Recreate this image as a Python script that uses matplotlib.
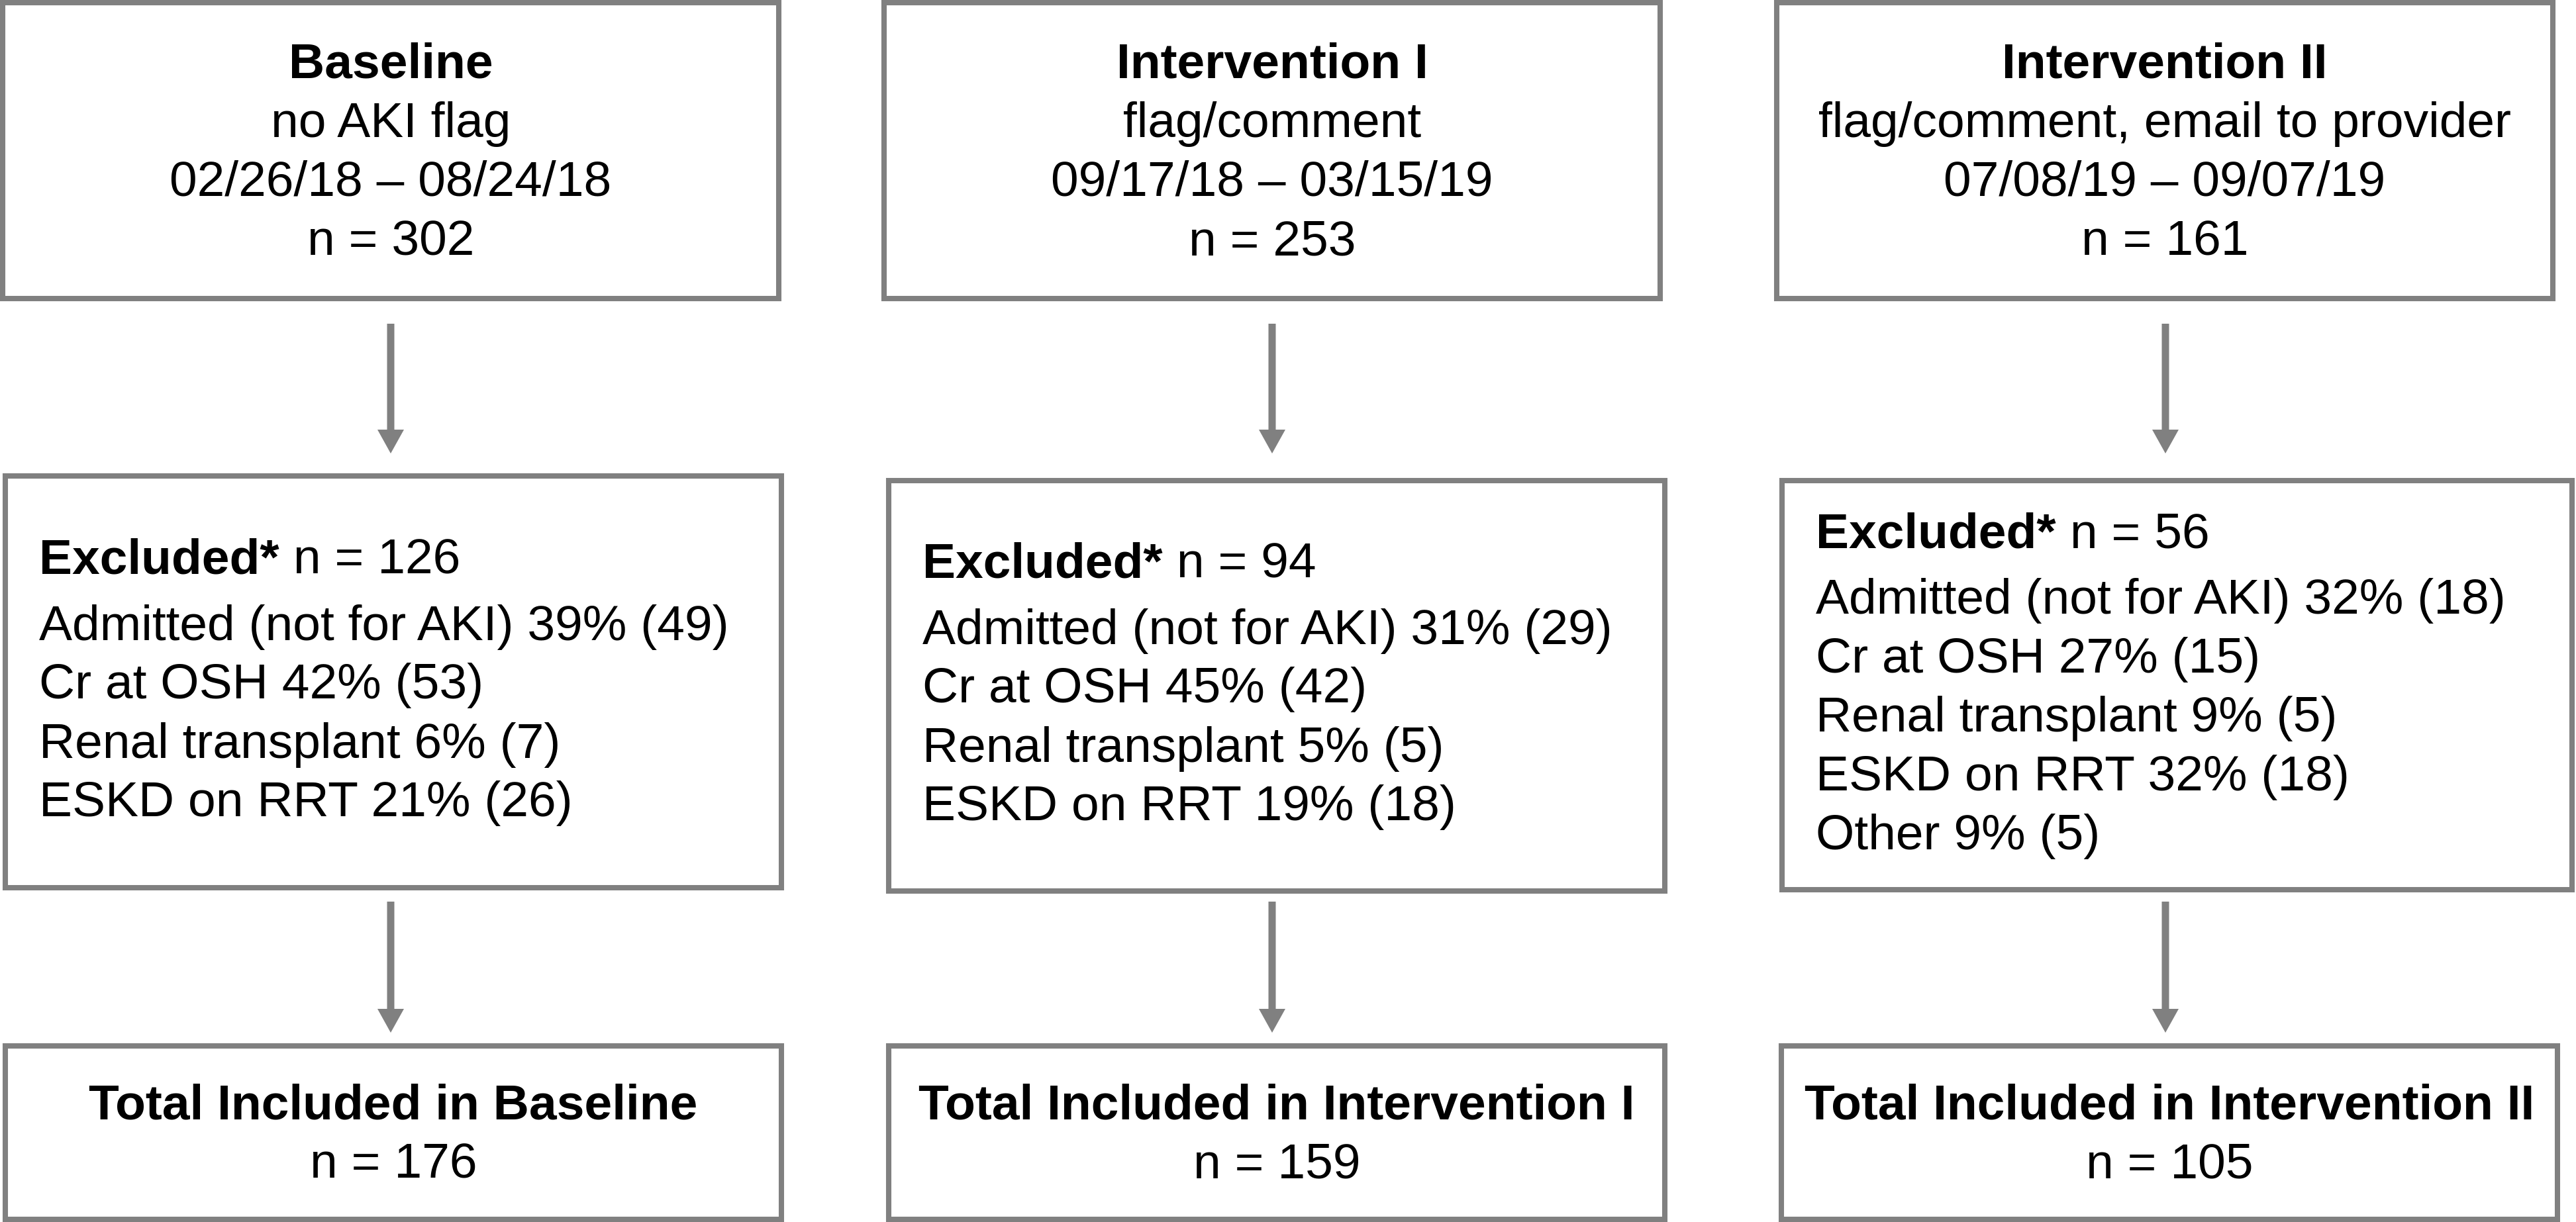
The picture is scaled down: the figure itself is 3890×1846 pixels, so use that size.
# Flow diagram of patients per study period (baseline / intervention I / II)

import matplotlib.pyplot as plt
from matplotlib.patches import Rectangle

plt.rcParams['font.family'] = ['Liberation Sans', 'DejaVu Sans']

groups = ["Baseline", "Intervention I", "Intervention II"]
descriptions = ["no AKI flag", "flag/comment", "flag/comment, email to provider"]
date_ranges = ["02/26/18 – 08/24/18", "09/17/18 – 03/15/19", "07/08/19 – 09/07/19"]
n_total = [302, 253, 161]
n_excluded = [126, 94, 56]
reasons = ["Admitted (not for AKI)", "Cr at OSH", "Renal transplant",
           "ESKD on RRT", "Other"]
excl_pct = [[39, 42, 6, 21, None], [31, 45, 5, 19, None], [32, 27, 9, 32, 9]]
excl_count = [[49, 53, 7, 26, None], [29, 42, 5, 18, None], [18, 15, 5, 18, 5]]
n_included = [176, 159, 105]

W, H = 3890, 1846
EDGE = "#808080"
FS = 54
LINE = 89

# box layout in pixels: (left, top, right, bottom)
top_boxes = [(4, 4, 1176, 451), (1335, 4, 2507, 451), (2683, 4, 3855, 451)]
mid_boxes = [(8, 719, 1180, 1341), (1342, 726, 2514, 1346), (2691, 726, 3884, 1344)]
bot_boxes = [(8, 1580, 1180, 1842), (1342, 1580, 2514, 1842), (2690, 1580, 3862, 1842)]
arrow_x = [590, 1921, 3270]
arrow1 = (489, 685)
arrow2 = (1362, 1560)

fig = plt.figure(figsize=(W / 100, H / 100), dpi=100)
ax = fig.add_axes([0, 0, 1, 1])
ax.set_xlim(0, W)
ax.set_ylim(H, 0)
ax.axis("off")


def box(b):
    l, t, r, btm = b
    ax.add_patch(Rectangle((l, t), r - l, btm - t, facecolor="white",
                           edgecolor=EDGE, linewidth=5.8))


def centered_lines(b, lines):
    # lines: list of (text, weight)
    l, t, r, btm = b
    cx = (l + r) / 2
    cy = (t + btm) / 2
    n = len(lines)
    for i, (s, w) in enumerate(lines):
        y = cy + (i - (n - 1) / 2) * LINE + 24
        ax.text(cx, y, s, ha="center", va="baseline", fontsize=FS,
                fontweight=w)


for i in range(3):
    # top row
    box(top_boxes[i])
    centered_lines(top_boxes[i], [(groups[i], "bold"),
                                  (descriptions[i], "normal"),
                                  (date_ranges[i], "normal"),
                                  (f"n = {n_total[i]}", "normal")])

    # middle row: exclusions
    box(mid_boxes[i])
    l, t, r, btm = mid_boxes[i]
    items = [f"{reasons[k]} {excl_pct[i][k]}% ({excl_count[i][k]})"
             for k in range(len(reasons)) if excl_pct[i][k] is not None]
    gap = 100
    total = gap + LINE * (len(items) - 1)
    y0 = (t + btm) / 2 - total / 2 + 20
    hdr = ax.text(l + 51, y0, "Excluded*", ha="left", va="baseline",
                  fontsize=FS, fontweight="bold")
    ax.annotate(f" n = {n_excluded[i]}", xy=(1, 0), xycoords=hdr,
                ha="left", va="bottom", fontsize=FS)
    for k, s in enumerate(items):
        ax.text(l + 51, y0 + gap + k * LINE, s, ha="left", va="baseline",
                fontsize=FS)

    # bottom row
    box(bot_boxes[i])
    centered_lines(bot_boxes[i], [(f"Total Included in {groups[i]}", "bold"),
                                  (f"n = {n_included[i]}", "normal")])

    # arrows
    for y_start, y_end in (arrow1, arrow2):
        ax.arrow(arrow_x[i], y_start, 0, y_end - y_start, width=11,
                 head_width=40, head_length=36, length_includes_head=True,
                 color=EDGE, linewidth=0)

fig.savefig("out.png", dpi=100, facecolor="white")
